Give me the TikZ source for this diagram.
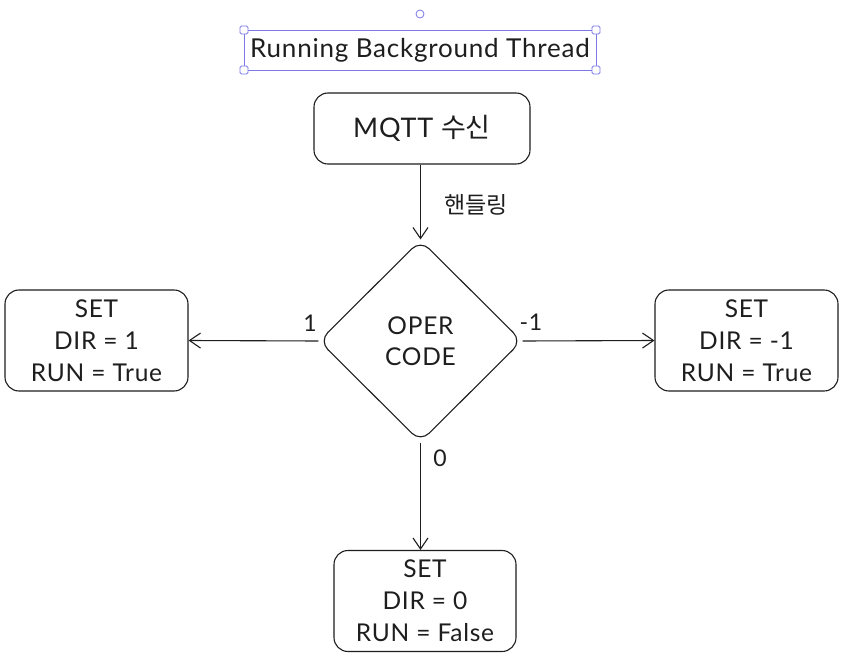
\documentclass[tikz,border=0pt]{standalone}
\usepackage{fontspec}
\setmainfont{Lato}[LetterSpace=3]
\newfontfamily\kr{Noto Sans CJK KR}
\usetikzlibrary{shapes.geometric,arrows.meta}
\definecolor{ink}{HTML}{1E1E1E}
\definecolor{sel}{HTML}{7B78E6}
\tikzset{
  box/.style={draw=ink,line width=1.1pt,rounded corners=14pt,align=center,
    font=\fontsize{24.5}{32}\selectfont,text=ink,inner sep=0pt},
  dec/.style={draw=ink,line width=1.1pt,shape=diamond,rounded corners=12pt,
    minimum width=203pt,minimum height=202pt,inner sep=0pt,align=center,
    font=\fontsize{24.5}{31}\selectfont,text=ink},
  conn/.style={draw=ink,line width=1.1pt,-{Straight Barb[length=11pt,width=15pt,line width=1.1pt]}},
  lbl/.style={font=\fontsize{23}{24}\selectfont,text=ink,inner sep=0pt},
  handle/.style={draw=sel,fill=white,line width=0.8pt,rounded corners=1.5pt},
}
\begin{document}
\begin{tikzpicture}[x=1pt,y=-1pt]
\useasboundingbox[fill=white] (0,0) rectangle (852,666);
% title with selection frame
\node[draw=sel,line width=0.8pt,minimum width=352pt,minimum height=40pt,inner sep=0pt,
  font=\fontsize{26}{30}\selectfont,text=ink] (title) at (420,50) {Running Background Thread};
\foreach \p in {(244,30),(596,30),(244,70),(596,70)}
  \path[handle] \p ++(-4,-4) rectangle ++(8,8);
\draw[sel,fill=white,line width=0.8pt] (420,14) circle (4);
% nodes
\node[box,minimum width=216pt,minimum height=71pt,font=\fontsize{27}{30}\selectfont] (mqtt) at (422,128.5) {MQTT {\kr 수신}};
\node[dec] (op) at (420.5,341) {OPER\\CODE};
\node[box,minimum width=183pt,minimum height=101pt] (left) at (96.5,340.5) {SET\\DIR = 1\\RUN = True};
\node[box,minimum width=183pt,minimum height=101pt] (right) at (746.5,340.5) {SET\\DIR = -1\\RUN = True};
\node[box,minimum width=182pt,minimum height=101pt] (bot) at (425,601) {SET\\DIR = 0\\RUN = False};
% connectors
\draw[conn] (mqtt.south -| op.north) -- (op.north);
\draw[conn] (op.west) -- (left.east);
\draw[conn] (op.east) -- (right.west);
\draw[conn] (op.south) -- (op.south |- bot.north);
% labels
\node[lbl,font=\kr\fontsize{23}{24}\selectfont] (lh) at (476,205) {핸들링};
\node[lbl] (l1) at (310,323) {1};
\node[lbl] (lm1) at (531,322) {-1};
\node[lbl] (l0) at (440,458) {0};
\end{tikzpicture}
\end{document}
